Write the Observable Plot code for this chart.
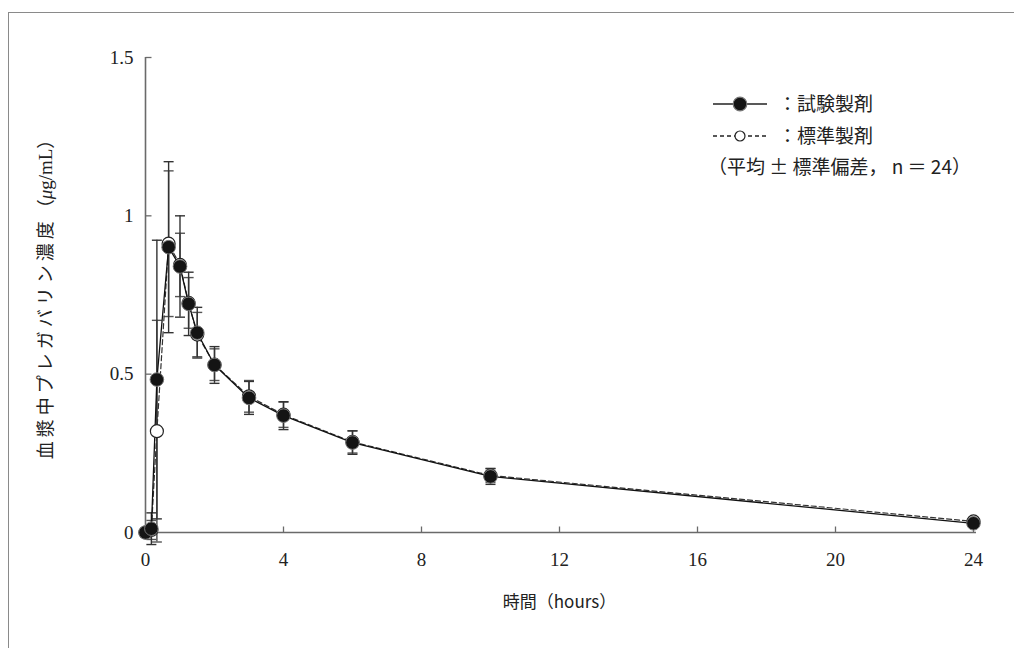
<!DOCTYPE html>
<html><head><meta charset="utf-8">
<script src="https://cdn.jsdelivr.net/npm/d3@7"></script>
<script src="https://cdn.jsdelivr.net/npm/@observablehq/plot@0.6"></script>
<style>
body{margin:0;background:#fff;}
#wrap{position:relative;width:1014px;height:648px;overflow:hidden;background:#fff;}
#border{position:absolute;left:8px;top:12px;width:2000px;height:2000px;border-top:1.5px solid #8a8a8a;border-left:1.5px solid #8a8a8a;pointer-events:none;}
#legend{position:absolute;left:0;top:0;}
</style></head><body><div id="wrap"><div id="border"></div></div>
<script>
// ---- data (hours, µg/mL) ----
const times    = [0, 0.17, 0.33, 0.67, 1, 1.25, 1.5, 2, 3, 4, 6, 10, 24];
const testMean = [0, 0.012, 0.483, 0.901, 0.840, 0.722, 0.631, 0.529, 0.425, 0.369, 0.284, 0.177, 0.029];
const testSD   = [0, 0.050, 0.440, 0.270, 0.160, 0.100, 0.080, 0.058, 0.052, 0.044, 0.037, 0.025, 0.008];
const stdMean  = [0, 0.008, 0.320, 0.912, 0.845, 0.725, 0.625, 0.530, 0.430, 0.372, 0.286, 0.180, 0.035];
const stdSD    = [0, 0.030, 0.350, 0.230, 0.100, 0.080, 0.070, 0.050, 0.050, 0.040, 0.035, 0.022, 0.008];
const xTicks = [0, 4, 8, 12, 16, 20, 24];
const yTicks = [0, 0.5, 1, 1.5];
const seriesNames = ["試験製剤", "標準製剤"];
const noteText = "（平均 ± 標準偏差， n ＝ 24）";
const xLabel = "時間（hours）";
const yLabelMain = "血漿中プレガバリン濃度";
const yLabelUnit = ["（", "μ", "g/mL）"];
const yLabel = yLabelMain + yLabelUnit.join("");

const test = times.map((t, i) => ({t, m: testMean[i], sd: testSD[i]}));
const std  = times.map((t, i) => ({t, m: stdMean[i], sd: stdSD[i]}));
const bars = d => d.filter(p => p.sd > 0);
const caps = d => bars(d).flatMap(p => [{t: p.t, v: p.m + p.sd}, {t: p.t, v: p.m - p.sd}]);

const capSym = {draw(ctx, size){const r = Math.sqrt(size/Math.PI); ctx.moveTo(-r,0); ctx.lineTo(r,0);}};
const tickUp = {draw(ctx, size){const r = Math.sqrt(size/Math.PI); ctx.moveTo(0,0); ctx.lineTo(0,-r);}};
const tickRight = {draw(ctx, size){const r = Math.sqrt(size/Math.PI); ctx.moveTo(0,0); ctx.lineTo(r,0);}};

const serif = "Liberation Serif, DejaVu Serif, serif";
const cjk = "Noto Sans CJK JP, sans-serif";
const ink = "#222";
const axisCol = "#6a6a6a";

const chart = Plot.plot({
  width: 1014, height: 648,
  marginLeft: 145, marginRight: 41, marginTop: 57, marginBottom: 116,
  style: {background: "transparent", color: ink},
  x: {domain: [0, 24]},
  y: {domain: [0, 1.5]},
  marks: [
    Plot.axisX({ticks: xTicks, tickSize: 0, tickPadding: 20, fontSize: 19, fontFamily: serif, label: null, tickFormat: d => String(d)}),
    Plot.axisY({ticks: yTicks, tickSize: 0, tickPadding: 12, fontSize: 19, fontFamily: serif, label: null, tickFormat: d => String(d)}),
    Plot.ruleY([0], {stroke: axisCol, strokeWidth: 1.6, insetRight: -3}),
    Plot.ruleX([0], {stroke: axisCol, strokeWidth: 1.6}),
    Plot.dot(xTicks, {x: d => d, frameAnchor: "bottom", symbol: tickUp, r: 6, stroke: axisCol, strokeWidth: 1.3, fill: "none"}),
    Plot.dot(yTicks, {y: d => d, frameAnchor: "left", symbol: tickRight, r: 6, stroke: axisCol, strokeWidth: 1.3, fill: "none"}),
    // error bars
    Plot.ruleX(bars(std), {x: "t", y1: p => p.m - p.sd, y2: p => p.m + p.sd, stroke: "#555", strokeWidth: 1.5}),
    Plot.dot(caps(std), {x: "t", y: "v", symbol: capSym, r: 5, stroke: "#555", strokeWidth: 1.4, fill: "none"}),
    Plot.ruleX(bars(test), {x: "t", y1: p => p.m - p.sd, y2: p => p.m + p.sd, stroke: "#333", strokeWidth: 1.4}),
    Plot.dot(caps(test), {x: "t", y: "v", symbol: capSym, r: 5, stroke: "#333", strokeWidth: 1.4, fill: "none"}),
    // lines
    Plot.line(std, {x: "t", y: "m", stroke: "#333", strokeWidth: 1.2, strokeDasharray: "5,3"}),
    Plot.line(test, {x: "t", y: "m", stroke: "#111", strokeWidth: 1.3}),
    // markers
    Plot.dot(std, {x: "t", y: "m", r: 6.5, fill: "white", stroke: "#222", strokeWidth: 1.2}),
    Plot.dot(test, {x: "t", y: "m", r: 6.8, fill: "#141414", stroke: "#777", strokeWidth: 1}),
    // axis titles
    Plot.text([xLabel], {frameAnchor: "bottom", dy: 75, fontSize: 17, fontFamily: cjk, fill: ink}),
    Plot.text([yLabel], {frameAnchor: "left", dx: -99, rotate: -90, textAnchor: "middle", fontSize: 18, fontFamily: cjk, fill: ink})
  ]
});
// style the y title: spaced CJK, italic μ in the unit
d3.select(chart).selectAll("text").filter(function(){return this.textContent === yLabel;}).each(function(){
  const t = d3.select(this);
  t.text(null);
  t.append("tspan").style("letter-spacing", "4px").text(yLabelMain);
  t.append("tspan").text(yLabelUnit[0]);
  t.append("tspan").attr("font-family", serif).attr("font-style", "italic").attr("font-size", 19).text(yLabelUnit[1]);
  t.append("tspan").attr("font-family", serif).attr("font-size", 19).text(yLabelUnit[2].slice(0, -1));
  t.append("tspan").text(yLabelUnit[2].slice(-1));
});
document.getElementById("wrap").prepend(chart);

// ---- legend ----
const lg = d3.select("#wrap").append("svg").attr("id", "legend").attr("width", 1014).attr("height", 648);
const rows = [
  {y: 104, dash: null, fill: "#141414", stroke: "#777", r: 6.8, name: seriesNames[0]},
  {y: 136, dash: "4,3", fill: "white", stroke: "#222", r: 5, name: seriesNames[1]}
];
rows.forEach(rw => {
  lg.append("line").attr("x1", 713).attr("x2", 767).attr("y1", rw.y).attr("y2", rw.y)
    .attr("stroke", "#222").attr("stroke-width", 1.3).attr("stroke-dasharray", rw.dash);
  lg.append("circle").attr("cx", 740).attr("cy", rw.y).attr("r", rw.r)
    .attr("fill", rw.fill).attr("stroke", rw.stroke).attr("stroke-width", 1.2);
  lg.append("text").attr("x", 778).attr("y", rw.y).attr("dy", "0.35em")
    .attr("font-family", cjk).attr("font-size", 19).attr("fill", ink).text("：" + rw.name);
});
lg.append("text").attr("x", 708).attr("y", 167).attr("dy", "0.35em")
  .attr("font-family", cjk).attr("font-size", 19).attr("fill", ink).text(noteText);
</script>
</body></html>
